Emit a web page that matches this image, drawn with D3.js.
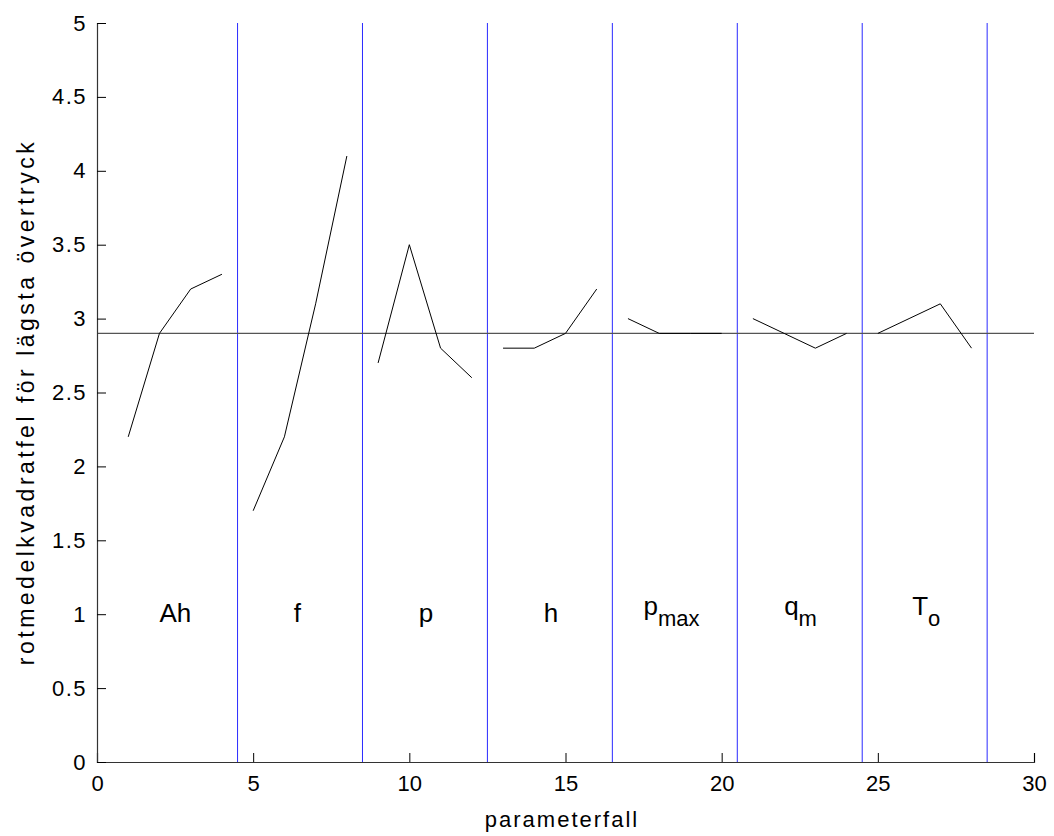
<!DOCTYPE html>
<html><head><meta charset="utf-8">
<script src="https://cdn.jsdelivr.net/npm/d3@7"></script>
<style>body{margin:0;background:#fff}svg{display:block}text{font-family:"Liberation Sans",Arial,sans-serif}</style>
</head><body><svg id="c" width="1054" height="836"></svg>
<script>
const groups = ["Ah","f","p","h","pmax","qm","To"];
const xCases = [[1,2,3,4],[5,6,7,8],[9,10,11,12],[13,14,15,16],[17,18,19,20],[21,22,23,24],[25,26,27,28]];
const rmsValues = [[2.2,2.9,3.2,3.3],[1.7,2.2,3.1,4.1],[2.7,3.5,2.8,2.6],[2.8,2.8,2.9,3.2],[3.0,2.9,2.9,2.9],[3.0,2.9,2.8,2.9],[2.9,3.0,3.1,2.8]];
const dividers = [4.5,8.5,12.5,16.5,20.5,24.5,28.5];
const baseline = 2.9;
const labelX = [2,6.3,10.3,14.3,17.5,22,26.1];
const labelMain = ["Ah","f","p","h","p","q","T"];
const labelSub = ["","","","","max","m","o"];
const xTicks = [0,5,10,15,20,25,30];
const yTicks = [0,0.5,1,1.5,2,2.5,3,3.5,4,4.5,5];

const svg = d3.select("#c");
const x = d3.scaleLinear().domain([0,30]).range([97,1034]);
const y = d3.scaleLinear().domain([0,5]).range([762,23]);

// dividers
svg.selectAll("line.div").data(dividers).join("line")
  .attr("x1",d=>x(d)).attr("x2",d=>x(d)).attr("y1",y(0)).attr("y2",y(5))
  .attr("stroke","#2a2aff").attr("stroke-width",1);
// baseline
svg.append("line").attr("x1",x(0)).attr("x2",x(30)).attr("y1",y(baseline)).attr("y2",y(baseline))
  .attr("stroke","#555").attr("stroke-width",1.2);

// series
const line = d3.line().x(d=>x(d[0])).y(d=>y(d[1]));
groups.forEach((g,i)=>{
  const pts = xCases[i].map((xv,j)=>[xv,rmsValues[i][j]]);
  svg.append("path").attr("d",line(pts)).attr("fill","none").attr("stroke","#000").attr("stroke-width",1);
});

// labels
labelMain.forEach((m,i)=>{
  const hasSub = !!labelSub[i];
  const t = svg.append("text").attr("x",x(labelX[i])).attr("y",hasSub ? 615 : 622).attr("font-size",26).attr("fill","#000");
  t.append("tspan").text(m);
  if(hasSub) t.append("tspan").attr("dy",11).attr("font-size",22).text(labelSub[i]);
});

// axes
const xAxis = d3.axisBottom(x).tickValues(xTicks).tickSizeInner(-9).tickSizeOuter(-9).tickPadding(13).tickFormat(d3.format("d"));
const gx = svg.append("g").attr("transform",`translate(0,${y(0)})`).call(xAxis);
const yAxis = d3.axisLeft(y).tickValues(yTicks).tickSizeInner(-9).tickSizeOuter(-9).tickPadding(10).tickFormat(d=>String(d));
const gy = svg.append("g").attr("transform",`translate(${x(0)},0)`).call(yAxis);
[gx,gy].forEach(g=>{
  g.selectAll("path").attr("stroke","#333").attr("stroke-width",1.2);
  g.selectAll("line").attr("stroke","#000");
  g.selectAll("text").attr("font-size",22).attr("fill","#000").attr("font-family","Liberation Sans, Arial, sans-serif");
});
gy.selectAll("text").attr("letter-spacing",1.5);

svg.append("text").attr("x",562).attr("y",827).attr("text-anchor","middle").attr("font-size",22).attr("letter-spacing",2).text("parameterfall");
svg.append("text").attr("transform","translate(34,402) rotate(-90)").attr("text-anchor","middle").attr("font-size",23).attr("letter-spacing",3.5).text("rotmedelkvadratfel för lägsta övertryck");
</script></body></html>
